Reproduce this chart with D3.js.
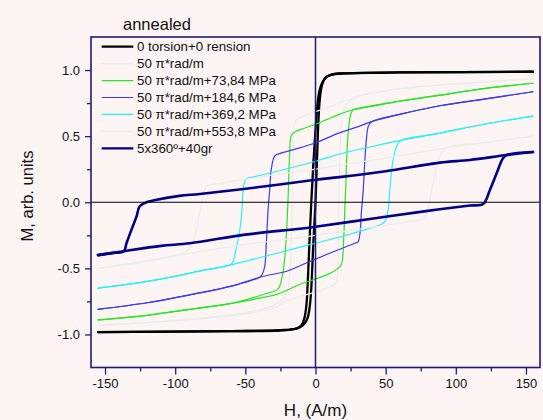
<!DOCTYPE html>
<html><head><meta charset="utf-8">
<script src="https://cdn.jsdelivr.net/npm/d3@7"></script>
<style>html,body{margin:0;padding:0;background:#fdf4f4;} svg{display:block;font-family:"Liberation Sans",Arial,sans-serif;}</style>
</head><body><svg id="c" width="543" height="420"></svg>
<script>
// ---- data ----
const TITLE = "annealed";
const X_LABEL = "H, (A/m)";
const Y_LABEL = "M, arb. units";
const H_TICKS = [-150, -100, -50, 0, 50, 100, 150];
const H_MINOR = [-125, -75, -25, 25, 75, 125];
const M_TICKS = [-1.0, -0.5, 0.0, 0.5, 1.0];
const M_MINOR = [-0.75, -0.25, 0.25, 0.75];
const SERIES_NAMES = ["0 torsion+0 rension", "50 \u03c0*rad/m", "50 \u03c0*rad/m+73,84 MPa",
  "50 \u03c0*rad/m+184,6 MPa", "50 \u03c0*rad/m+369,2 MPa", "50 \u03c0*rad/m+553,8 MPa", "5x360\u00ba+40gr"];

// each loop: descending branch (H from +155 to -155) and ascending branch (H from -155 to +155), [H, M]
const black_down = [[155,0.987],[60,0.982],[20,0.975],[12,0.968],[8,0.95],[5,0.91],[3,0.85],[1.5,0.75],[0,0.55],[-1.5,0.3],[-3,0],[-4.5,-0.35],[-5.5,-0.6],[-6.5,-0.78],[-8,-0.88],[-10,-0.93],[-14,-0.955],[-25,-0.968],[-60,-0.975],[-155,-0.982]];
const black_up = [[-155,-0.982],[-60,-0.975],[-25,-0.97],[-15,-0.96],[-11,-0.945],[-8,-0.92],[-5.5,-0.87],[-4,-0.78],[-3,-0.65],[-1.5,-0.3],[0,0],[1,0.3],[2,0.6],[3,0.77],[4.5,0.88],[7,0.94],[11,0.963],[20,0.975],[60,0.982],[155,0.987]];

const gray50_down = [[155,0.935],[120,0.91],[80,0.88],[50,0.845],[30,0.80],[20,0.765],[11,0.725],[0,0.685],[-8,0.655],[-13,0.63],[-15,0.6],[-16,0.3],[-17,-0.2],[-18,-0.5],[-19.5,-0.65],[-22,-0.72],[-30,-0.78],[-50,-0.835],[-80,-0.875],[-120,-0.91],[-155,-0.93]];
const gray50_up = [[-155,-0.93],[-120,-0.91],[-80,-0.88],[-50,-0.845],[-30,-0.80],[-20,-0.745],[-11,-0.713],[0,-0.68],[8,-0.65],[13,-0.625],[15,-0.6],[16,-0.3],[17,0.2],[18,0.5],[19.5,0.65],[22,0.74],[30,0.80],[50,0.845],[80,0.88],[120,0.91],[155,0.935]];

const green_down = [[155,0.90],[120,0.86],[88.7,0.81],[60,0.765],[40,0.725],[27,0.70],[17,0.665],[8,0.625],[0,0.59],[-8,0.56],[-14,0.535],[-17,0.51],[-18.5,0.35],[-19.3,0.1],[-20.5,-0.2],[-22,-0.43],[-23.5,-0.55],[-26.7,-0.655],[-35,-0.69],[-60,-0.765],[-90,-0.81],[-120,-0.855],[-155,-0.89]];
const green_up = [[-155,-0.89],[-120,-0.855],[-90,-0.81],[-60,-0.765],[-40,-0.725],[-27,-0.695],[-11,-0.62],[0,-0.58],[10,-0.54],[16,-0.5],[18.5,-0.47],[20,-0.3],[20.9,-0.05],[21.5,0.1],[22.3,0.35],[23.5,0.55],[25,0.66],[26.8,0.70],[35,0.72],[60,0.765],[88.7,0.81],[120,0.86],[155,0.90]];

const blue_down = [[155,0.836],[120,0.78],[88.7,0.73],[60,0.665],[40,0.61],[30,0.57],[17,0.525],[0,0.45],[-15,0.4],[-25,0.37],[-29,0.35],[-31.5,0.25],[-32.6,0.1],[-33.8,-0.06],[-35,-0.3],[-36.2,-0.487],[-38,-0.545],[-39.7,-0.567],[-60,-0.635],[-89.6,-0.70],[-120,-0.76],[-155,-0.81]];
const blue_up = [[-155,-0.81],[-120,-0.76],[-89.6,-0.70],[-60,-0.635],[-39.7,-0.567],[-20,-0.52],[-11,-0.48],[0,-0.43],[15,-0.365],[28,-0.31],[30.4,-0.298],[32.8,-0.06],[34,0.09],[35.2,0.32],[36.5,0.5],[37.5,0.57],[40,0.609],[60,0.665],[88.7,0.73],[120,0.78],[155,0.836]];

const cyan_down = [[155,0.652],[120,0.59],[88.7,0.523],[61.3,0.47],[40,0.42],[17.3,0.365],[0,0.31],[-25,0.24],[-45,0.19],[-49.2,0.18],[-51,0.14],[-51.6,0.09],[-52.8,-0.11],[-54.5,-0.25],[-56.3,-0.336],[-58.8,-0.449],[-61.1,-0.475],[-77.7,-0.51],[-113.4,-0.587],[-155,-0.65]];
const cyan_up = [[-155,-0.65],[-113.4,-0.587],[-77.7,-0.51],[-61.1,-0.475],[-40,-0.42],[-11,-0.34],[0,-0.31],[25,-0.24],[45,-0.175],[48.2,-0.159],[49.4,-0.147],[51.8,-0.058],[53,0.093],[55.3,0.32],[58.9,0.446],[61.3,0.47],[88.7,0.523],[120,0.59],[155,0.652]];

const gray553_down = [[155,0.50],[120,0.45],[93,0.41],[50,0.335],[17,0.28],[0,0.25],[-40,0.19],[-70,0.14],[-78,0.12],[-80,0.05],[-82,-0.05],[-85,-0.2],[-88,-0.32],[-92,-0.375],[-120,-0.44],[-155,-0.50]];
const gray553_up = [[-155,-0.50],[-120,-0.45],[-92,-0.39],[-50,-0.32],[-17,-0.275],[0,-0.25],[40,-0.19],[70,-0.14],[78,-0.12],[80,-0.05],[82,0.05],[85,0.2],[88,0.33],[93,0.41],[120,0.45],[155,0.50]];

const navy_down = [[155,0.38],[136.2,0.357],[110,0.32],[88.7,0.30],[50,0.235],[17,0.19],[0,0.17],[-40,0.115],[-82.5,0.063],[-97,0.048],[-115,0.015],[-120.5,0.0],[-125.3,-0.03],[-127.6,-0.109],[-131.2,-0.209],[-134.7,-0.31],[-136.6,-0.37],[-145,-0.385],[-155,-0.40]];
const navy_up = [[-155,-0.40],[-136.6,-0.37],[-110,-0.33],[-89.5,-0.31],[-50,-0.245],[-11,-0.20],[0,-0.185],[40,-0.125],[80,-0.065],[110,-0.025],[119.5,-0.013],[124.3,0.093],[129.1,0.219],[133.6,0.333],[136.2,0.357],[155,0.38]];

const LOOPS = [[black_down, black_up],[gray50_down, gray50_up],[green_down, green_up],[blue_down, blue_up],[cyan_down, cyan_up],[gray553_down, gray553_up],[navy_down, navy_up]];

// ---- styles ----
const COLORS = ["#000000", "#ebebeb", "#22e822", "#3a3af0", "#22f2fa", "#ebebeb", "#00008b"];
const WIDTHS = [2.3, 1.2, 1.2, 1.2, 1.2, 1.2, 2.6];
const FRAME = "#1c1c7a";

const svg = d3.select("#c");
const m = {l: 91, r: 540, t: 37, b: 367.5};
const x = d3.scaleLinear().domain([-160, 160]).range([m.l, m.r]);
const y = d3.scaleLinear().domain([-1.25, 1.25]).range([m.b, m.t]);

svg.append("rect").attr("width", 543).attr("height", 420).attr("fill", "#fdf4f4");

svg.append("clipPath").attr("id", "clip").append("rect")
  .attr("x", m.l).attr("y", m.t).attr("width", m.r - m.l).attr("height", m.b - m.t);

const line = d3.line().x(d => x(d[0])).y(d => y(d[1])).curve(d3.curveCatmullRom.alpha(0.5));
const plot = svg.append("g").attr("clip-path", "url(#clip)");
LOOPS.forEach((lp, i) => {
  [lp[0], lp[1]].forEach(br => {
    plot.append("path").attr("d", line(br)).attr("fill", "none")
      .attr("stroke", COLORS[i]).attr("stroke-width", WIDTHS[i])
      .attr("stroke-linejoin", "round").attr("stroke-linecap", "round");
  });
});

// zero lines
svg.append("line").attr("x1", m.l).attr("x2", m.r).attr("y1", y(0)).attr("y2", y(0))
  .attr("stroke", "#000").attr("stroke-width", 1);
svg.append("line").attr("x1", x(0)).attr("x2", x(0)).attr("y1", m.t).attr("y2", m.b)
  .attr("stroke", FRAME).attr("stroke-width", 1.5);

// axes
const xAxis = svg.append("g").attr("transform", `translate(0,${m.b})`)
  .call(d3.axisBottom(x).tickValues(H_TICKS).tickSize(7).tickPadding(4).tickFormat(d => String(d)));
const xMinor = svg.append("g").attr("transform", `translate(0,${m.b})`)
  .call(d3.axisBottom(x).tickValues(H_MINOR).tickSize(4).tickFormat(""));
const yAxis = svg.append("g").attr("transform", `translate(${m.l},0)`)
  .call(d3.axisLeft(y).tickValues(M_TICKS).tickSize(6).tickPadding(5).tickFormat(d => d.toFixed(1)));
const yMinor = svg.append("g").attr("transform", `translate(${m.l},0)`)
  .call(d3.axisLeft(y).tickValues(M_MINOR).tickSize(4).tickFormat(""));
[xAxis, xMinor, yAxis, yMinor].forEach(g => {
  g.select(".domain").remove();
  g.selectAll(".tick line").attr("stroke", FRAME).attr("stroke-width", 1.3);
  g.selectAll("text").attr("font-size", 13).attr("fill", "#111")
    .attr("font-family", "'Liberation Sans', Arial, sans-serif");
});

// frame
svg.append("rect").attr("x", m.l).attr("y", m.t).attr("width", m.r - m.l).attr("height", m.b - m.t)
  .attr("fill", "none").attr("stroke", FRAME).attr("stroke-width", 1.6);

// labels
svg.append("text").attr("x", 123).attr("y", 30).attr("font-size", 16.5).attr("fill", "#111").text(TITLE);
svg.append("text").attr("x", x(0)).attr("y", 416).attr("text-anchor", "middle")
  .attr("font-size", 17).attr("fill", "#111").text(X_LABEL);
svg.append("text").attr("transform", "translate(33,196) rotate(-90)").attr("text-anchor", "middle")
  .attr("font-size", 16.5).attr("fill", "#111").text(Y_LABEL);

// legend
const leg = svg.append("g");
SERIES_NAMES.forEach((n, i) => {
  const yy = 46.7 + i * 16.93;
  leg.append("line").attr("x1", 101.7).attr("x2", 133.3).attr("y1", yy).attr("y2", yy)
    .attr("stroke", COLORS[i]).attr("stroke-width", Math.min(WIDTHS[i], 2.2));
  leg.append("text").attr("x", 137).attr("y", yy + 4.6).attr("font-size", 13.3).attr("fill", "#111").text(n);
});
</script></body></html>
